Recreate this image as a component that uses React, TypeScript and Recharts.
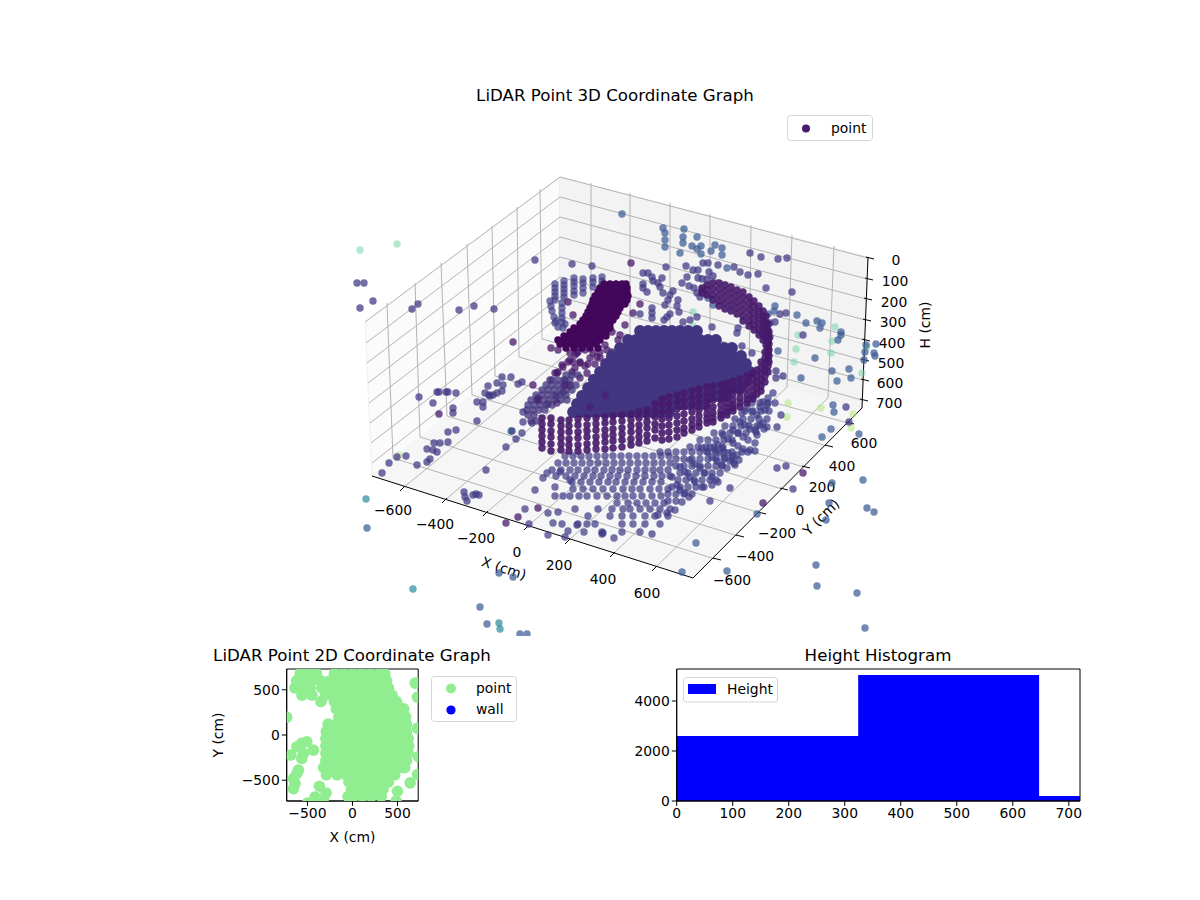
import React from 'react';
import { ScatterChart, Scatter, XAxis, YAxis, ZAxis, ReferenceLine, ReferenceArea, Legend, Customized, AreaChart, Area } from 'recharts';

const FONT = '"DejaVu Sans", sans-serif';

// ---- 3D panel: projected positions of the LiDAR points: [px, py, px, py, ...]
const farBluePoints = [622,214, 663,228, 665,233, 665,240, 665,247, 684,229, 683,237, 683,243, 680,253, 697,237, 692,246, 701,246, 697,249, 701,254, 711,251, 715,245, 722,248, 722,255, 713,305, 708,298, 727,268, 768,314, 775,306, 774,311, 797,315, 806,323, 817,321, 822,323, 820,328, 841,332, 841,335, 838,340, 866,345, 876,344, 865,352, 874,353, 875,356, 864,360, 815,358, 832,371, 849,369, 837,381, 851,378, 801,378, 778,351, 367,528, 480,607, 487,624, 520,634, 527,634, 499,573, 513,577, 816,565, 817,586, 857,593, 865,628, 832,483, 863,480, 829,503, 867,508, 874,512, 826,520, 859,434, 833,405, 834,412, 831,429, 822,437, 757,514, 727,571, 682,572, 696,543];
const farTealPoints = [366,499, 413,589, 499,623, 500,629, 511,431];
const farMintPoints = [360,250, 397,244, 693,312, 693,326, 835,327, 798,335, 832,341, 796,349, 831,353, 794,362, 862,373, 867,347];
const farLimePoints = [788,403, 787,417, 821,408, 853,414, 851,428, 399,455];
const midPurplePoints = [357,283, 364,283, 373,301, 360,308, 412,309, 418,304, 459,310, 474,306, 494,309, 535,260, 572,264, 592,266, 750,253, 761,257, 778,259, 787,258, 718,265, 708,263, 703,263, 734,267, 740,272, 748,275, 758,274, 766,288, 792,292, 666,267, 686,266, 693,270, 698,270, 709,272, 687,277, 698,278, 702,279, 707,279, 713,276, 682,283, 689,286, 694,288, 702,290, 697,293, 700,297, 643,273, 648,273, 652,277, 662,278, 643,284, 643,288, 647,292, 653,281, 658,283, 660,287, 663,293, 673,291, 670,295, 668,300, 665,305, 678,300, 677,306, 679,312, 652,308, 652,313, 652,318, 640,314, 670,314, 667,317, 664,320, 683,322, 690,320, 697,317, 712,327, 738,328, 737,333, 742,346, 752,353, 770,323, 775,322, 780,314, 786,313, 803,335, 770,337, 776,371, 776,378, 783,376, 846,407, 777,468, 786,466, 793,489, 777,427, 781,415, 849,422, 710,501, 730,488, 652,534, 419,397, 433,403, 437,392, 439,392, 446,392, 448,392, 456,393, 477,402, 483,402, 483,407, 485,393, 489,395, 493,395, 497,393, 502,391, 453,408, 453,413, 477,421, 448,432, 456,430, 434,443, 440,443, 448,442, 427,449, 433,450, 437,452, 430,459, 427,462, 417,465, 406,456, 397,457, 389,463, 382,473, 486,470, 464,492, 465,497, 467,501, 473,495, 476,494, 479,495, 512,431, 522,433, 516,439, 506,447, 523,422, 532,423, 523,412, 502,377, 511,377, 497,383, 488,386, 503,385, 518,384, 522,382, 490,396];
const deepPurplePoints = [513,342, 631,263, 640,304, 633,313, 551,348, 558,350, 570,353, 575,355, 568,362, 573,362, 562,365, 558,372, 555,373, 572,372, 565,380, 580,363, 588,364, 595,364, 600,352, 593,353, 607,350, 612,352, 618,360, 620,362, 605,365, 587,373, 592,378, 618,340, 612,332, 620,335, 625,325, 568,302, 573,315, 439,414, 533,385, 538,398, 803,473, 763,503, 518,517, 506,523, 538,508, 550,380, 557,373, 563,367, 570,360, 577,353, 580,362, 597,357, 605,345, 617,357, 600,358, 610,358, 590,358, 585,350, 578,352, 575,368, 585,366, 600,372, 610,372, 595,382, 580,378, 570,386, 563,392, 556,396, 548,404];
const handPoints = [555,284, 555,288, 555,292, 555,296, 555,300, 564,281, 564,285, 564,289, 564,293, 564,297, 574,278, 574,282, 574,286, 574,291, 574,295, 583,279, 583,283, 583,288, 583,293, 593,278, 593,282, 593,287, 602,277, 602,281, 602,285, 550,301, 551,306, 552,311, 554,317, 556,321, 562,303, 562,308, 562,313, 562,318, 562,322, 555,323, 563,328, 558,327, 565,324];

// rows of the dense clusters: [py, px, px, ...]
const clusterRows = [
  [284, 604,610,616,622,626], [288, 600,606,612,618,624,627], [292, 598,604,610,616,622,627], [296, 595,601,607,613,619,625,628],
  [300, 593,599,605,611,617,623,627], [304, 592,598,604,610,616,622,625], [308, 590,596,602,608,614,620], [312, 588,594,600,606,612,618],
  [316, 586,592,598,604,610,616], [320, 583,589,595,601,607,613], [324, 580,586,592,598,604,610], [328, 574,580,586,592,598,604,610],
  [332, 570,576,582,588,594,600,606], [336, 564,570,576,582,588,594,600,606], [340, 558,564,570,576,582,588,594,600],
  [344, 560,566,572,578,584,590,596], [348, 566,574,582,590,598],
];
const lobeRows = [
  [375, 566,572,578], [380, 552,558,564,570], [385, 546,552,558,564,570,576], [390, 542,548,554,560,566,572], [395, 536,542,548,554,560,566],
  [400, 531,537,543,549,555,561,567], [405, 528,534,540,546,552], [410, 527,533,539,545], [415, 528,534], [421, 531,536],
];
const discRows = [
  [331, 640,648,656,664,672,680,688,697], [340, 628,636,644,652,660,668,676,684,692,700,708,716],
  [348, 620,628,636,644,652,660,668,676,684,692,700,708,716,724,732], [356, 612,620,628,636,644,652,660,668,676,684,692,700,708,716,724,732,741],
  [364, 606,614,622,630,638,646,654,662,670,678,686,694,702,710,718,726,734,742,746], [372, 600,608,616,624,632,640,648,656,664,672,680,688,696,704,712,720,728,736,744,750],
  [380, 594,602,610,618,626,634,642,650,658,666,674,682,690,698,706,714,722,730,738,746], [388, 588,596,604,612,620,628,636,644,652,660,668,676,684,692,700,708,716,724,732,740],
  [396, 582,590,598,606,614,622,630,638,646,654,662,670,678,686,694,702,710,718,726], [404, 577,585,593,601,609,617,625,633,641,649,657,665,673,681,689,697,705],
  [412, 573,581,589,597,605,613,621,629,637,645,653,661,669],
];
const discSpecks = [605,395, 590,407, 538,400, 557,403, 565,385];
// ring wall: [px, py, py, ...]
const ringColumns = [
  [542,418,424,430,436,442,448], [551,418,424,431,437,444,451], [561,420,426,432,438,444,450], [569,420,426,432,439,445,451],
  [578,419,425,432,438,445,451], [587,418,425,431,437,444,450], [596,418,424,430,437,443,449], [605,417,423,430,436,442,449],
  [613,416,422,429,435,441,448], [622,415,421,428,434,440,447], [631,414,420,426,432,439,445], [639,412,418,425,431,437,443],
  [647,410,416,422,428,435,441], [655,404,411,417,424,430,438], [662,399,405,412,419,426,433,440], [669,397,404,411,418,425,432,439],
  [677,395,402,409,416,423,430,437], [684,393,400,407,414,421,428,433], [692,391,398,405,412,419,425,430], [699,389,396,403,410,416,422,427],
  [707,387,394,401,408,414,419,423], [713,386,393,400,407,413,418,422], [721,385,392,399,405,411,415,418], [727,383,390,397,403,408,412,415],
  [733,381,388,394,400,405,408,411], [740,379,386,392,398,403,407], [747,376,383,389,395,400,403], [753,373,379,385,391,396,399],
  [757,370,376,382,388,394], [761,362,368,374,380,386,391], [765,352,358,364,370,376,382], [768,342,348,354,360,366,372],
  [769,332,338,344,350,356,362], [768,324,330,336,342,348,353], [766,316,322,328,334,340,345], [763,311,317,323,329,335,340],
  [759,306,312,318,324,330,335], [754,301,307,313,319,325,330], [749,297,303,309,315,321,326], [743,292,298,304,310,316,321],
  [737,290,296,302,308,314], [731,287,293,299,305,311], [725,285,291,297,303,309], [719,283,289,295,301,306], [713,283,289,295,300],
  [707,285,290,295], [702,288,293],
];
const floorRows = [
  [456, 565,573,581,589,597,605,613,621,629,637,645,653,661,669], [463, 558,566,574,582,590,598,606,614,622,630,638,646,654,662,670],
  [470, 552,561,570,578,587,595,604,612,620,628,637,645,653,660,668], [476, 556,566,575,584,593,601,610,618,627,636,645,654,662,670],
  [482, 572,581,590,599,608,616,625,634,643,652,661], [489, 573,583,593,603,613,623,632,640,650,659,668],
  [496, 563,570,579,587,597,607,617,625,633,642,652,661], [503, 617,628,637,646,655,664], [509, 575,598,612,623,630,640,650,660,670],
  [516, 588,610,622,633,645,655,668], [524, 562,578,587,595,622,633,645,660], [532, 584,602,622,640],
  [447, 690,698,706,714,722], [440, 700,708,716,724,732], [433, 714,722,730,738,746], [426, 725,733,741,749,757],
  [419, 735,743,751,759,767], [411, 745,753,761,769], [403, 752,760,768,775], [452, 660,668,676,684,692,700,708,716,724,732],
  [459, 676,684,692,700,708,716,724,732], [466, 676,684,692,700,708,716,722], [473, 680,688,696,704,712,720],
  [480, 678,686,694,702,710,716], [487, 672,680,688,696,704], [494, 668,676,684,692], [501, 668,676],
];
const floorStrands = [689,497, 685,493, 680,490, 677,485, 672,477, 702,487, 695,482, 690,477, 685,472, 680,467, 718,482, 712,477, 705,473, 700,468, 695,464, 690,460, 727,468, 722,465, 717,461, 712,457, 707,452, 702,448, 735,465, 730,461, 725,458, 720,453, 715,450, 710,447, 739,460, 733,456, 728,453, 723,448, 718,445, 750,450, 743,449, 738,446, 733,443, 728,439, 723,435, 755,443, 748,440, 743,437, 738,433, 733,430, 767,427, 760,425, 756,432, 750,429, 745,425, 740,422, 765,410, 760,407, 757,415, 752,412, 747,408, 742,413, 773,393, 768,398, 763,402, 767,405, 763,423, 764,429, 755,430, 757,435, 755,451, 748,452, 742,452, 737,455, 734,463, 712,485, 682,502, 675,510, 667,513, 658,515, 535,490, 543,478, 547,473, 555,487, 555,496, 525,509, 548,513, 558,512, 553,523, 548,535, 529,524, 568,531, 565,537, 577,525, 603,533, 602,534, 614,538, 560,472, 570,480];

const flatPairs = (a: number[]) => { const out: { px: number; py: number }[] = []; for (let i = 0; i < a.length; i += 2) out.push({ px: a[i], py: a[i + 1] }); return out; };
const fromRows = (rows: number[][]) => rows.flatMap(([py, ...xs]) => xs.map((px) => ({ px, py })));
const fromColumns = (cols: number[][]) => cols.flatMap(([px, ...ys]) => ys.map((py) => ({ px, py })));

// ---- 3D frame
const zTickLabels = ['0', '100', '200', '300', '400', '500', '600', '700'];
const xTickLabels = ['\u2212600', '\u2212400', '\u2212200', '0', '200', '400', '600'];
const yTickLabels = ['\u2212600', '\u2212400', '\u2212200', '0', '200', '400', '600'];
const leftTop = [[387,303],[415,283],[441,263],[467,244],[492,226],[517,207],[540,189]];
const leftBot = [[393,458],[420,437],[447,416],[472,395],[495,376],[519,357],[542,339]];
const backTop = [[591,183],[630,193],[670,203],[710,214],[751,225],[792,235],[834,246]];
const backBot = [[591,334],[630,344],[670,355],[710,366],[749,376],[787,387],[828,398]];
const xFoot = [[403,488],[445,500],[486,513],[527,527],[568,541],[613,554],[655,568]];
const yFoot = [[715,559],[738,536],[760,513],[782,489],[804,467],[827,446],[848,423]];
const zLeft = [[365,322],[366,343],[367,363],[368,383],[369,403],[370,423],[371,443],[372,463]];
const zBack = [[560,177],[560,197],[560,217],[560,237],[560,257],[560,277],[560,297],[560,316]];
const zRight = [[868,258],[867,279],[866,299],[865,320],[864,340],[863,360],[863,380],[862,400]];
const xLabelPos = [[393,510],[435,524],[476,538],[517,552],[559,565],[603,579],[647,593]];
const yLabelPos = [[732,580],[755,556],[777,533],[800,510],[822,487],[842,466],[864,443]];
const zLabelPos = [[896,260],[895,281],[894,302],[893,322],[892,343],[891,363],[890,383],[889,403]];

const wires: number[][] = [];
leftTop.forEach((p, i) => { wires.push([p[0], p[1], leftBot[i][0], leftBot[i][1]]); wires.push([leftBot[i][0], leftBot[i][1], yFoot[i][0], yFoot[i][1]]); });
backTop.forEach((p, i) => { wires.push([p[0], p[1], backBot[i][0], backBot[i][1]]); wires.push([backBot[i][0], backBot[i][1], xFoot[i][0], xFoot[i][1]]); });
zLeft.forEach((p, i) => { wires.push([p[0], p[1], zBack[i][0], zBack[i][1]]); wires.push([zBack[i][0], zBack[i][1], zRight[i][0], zRight[i][1]]); });

const spines = [[372,476,693,578],[693,578,862,408],[868,257,862,408]];
const tickMarks: number[][] = [
  ...xFoot.map(([x, y]) => [x + 2, y - 2, x - 3, y + 3]),
  ...yFoot.map(([x, y]) => [x - 2, y - 1, x + 6, y + 1]),
  ...zRight.map(([x, y]) => [x - 2, y - 1, x + 6, y + 1]),
];

const Panes = () => (
  <g>
    <polygon points="365,322 560,177 559,325 372,476" fill="#fbfbfb" stroke="#f0f0f0" />
    <polygon points="560,177 868,257 862,408 559,325" fill="#f3f3f3" stroke="#ececec" />
    <polygon points="372,476 559,325 862,408 693,578" fill="#f6f6f6" stroke="none" />
  </g>
);

const FrameText = () => (
  <g fontFamily={FONT} fontSize={13.9} fill="#000" textAnchor="middle" dominantBaseline="central">
    {xTickLabels.map((t, i) => <text key={'x' + i} x={xLabelPos[i][0]} y={xLabelPos[i][1]}>{t}</text>)}
    {yTickLabels.map((t, i) => <text key={'y' + i} x={yLabelPos[i][0]} y={yLabelPos[i][1]}>{t}</text>)}
    {zTickLabels.map((t, i) => <text key={'z' + i} x={zLabelPos[i][0]} y={zLabelPos[i][1]}>{t}</text>)}
    <text transform="translate(504,568) rotate(18)">X (cm)</text>
    <text transform="translate(821,517) rotate(-45)">Y (cm)</text>
    <text transform="translate(925,325) rotate(-90)">H (cm)</text>
  </g>
);

const dot = (r: number) => (p: any) => <circle cx={p.cx} cy={p.cy} r={r} fill={p.fill} fillOpacity={p.fillOpacity} />;

const legendBox3D = (props: any) => {
  const item = (props.payload ?? []).find((it: any) => it.value === 'point');
  return (
    <svg width={86} height={26} style={{ display: 'block' }}>
      <rect x={0.5} y={0.5} width={85} height={25} rx={3} fill="#fff" stroke="#d5d5d5" />
      <circle cx={19} cy={13.5} r={4} fill={item?.color ?? '#440f6e'} />
      <text x={44} y={13} fontFamily={FONT} fontSize={13.9} fill="#000" dominantBaseline="central">{item?.value}</text>
    </svg>
  );
};

// ---- 2D panel data, in cm: [y, x, x, ...]
const planRows = [
  [680, -580,-490,-400,-200,-100,0,100,200,300,360], [600, -620,-530,-440,-350,-250,-150,-50,50,150,250,350,380],
  [520, -640,-560,-470,-340,-240,-140,-40,60,160,260,370,400], [440, -560,-450,-300,-220,-120,-20,80,180,280,380,440],
  [370, -350,-200,-150,-50,50,150,250,350,450,490], [290, -180,-130,-30,70,170,270,370,470,540,570],
  [200, -150,-100,0,100,200,300,400,500,590], [120, -270,-180,-120,-20,80,180,280,380,480,580,600],
  [40, -290,-240,-140,-40,60,160,260,360,460,560,600], [-40, -295,-240,-140,-40,60,160,260,360,460,560,620],
  [-120, -295,-240,-140,-40,60,160,260,360,460,560,625], [-200, -295,-240,-140,-40,60,160,260,360,460,560,620],
  [-280, -295,-240,-140,-40,60,160,260,360,460,560,600], [-360, -320,-250,-150,-40,60,160,260,360,460,560,580],
  [-440, -290,-170,-70,10,110,210,310,410,470], [-520, -40,30,130,230,330,400], [-600, -10,50,150,250,340], [-680, -50,10,110,210,320],
];
const planStrays = [-685,-222, -618,-130, -563,-93, -507,-74, -433,-167, -544,-204, -563,-259, -600,-389, -618,-426, -655,-481, -637,-537, -655,-593, -367,-567, -293,-641, -415,-685, -322,-704, -500,-752, 696,574, 722,418, 722,74, 722,-437, 641,-530, 500,-622, 485,-730, -730,196, 733,-240];
const wallPoints: { x: number; y: number }[] = [];
const planTicks = [-500, 0, 500];

// ---- Histogram data
const histEdges = [0, 324, 647, 720];
const histCounts = [2600, 5040, 200, 200];
const histXTicks = [0, 100, 200, 300, 400, 500, 600, 700];
const histYTicks = [0, 2000, 4000];

const tickStyle = { fontSize: 13.9, fill: '#000', fontFamily: FONT };
const minus = (v: number) => String(v).replace('-', '\u2212');

const legendBox2D = (props: any) => {
  const items = props.payload ?? [];
  return (
    <svg width={86} height={46} style={{ display: 'block' }}>
      <rect x={0.5} y={0.5} width={85} height={45} rx={3} fill="#fff" stroke="#d5d5d5" />
      {items.map((it: any, i: number) => (
        <g key={i}>
          <circle cx={20} cy={12.5 + i * 21.5} r={i === 0 ? 5 : 4.6} fill={it.color} />
          <text x={45} y={12 + i * 20.5} fontFamily={FONT} fontSize={13.9} fill="#000" dominantBaseline="central">{it.value}</text>
        </g>
      ))}
    </svg>
  );
};
const legendBoxHist = (props: any) => {
  const item = props.payload?.[0];
  return (
    <svg width={96} height={26} style={{ display: 'block' }}>
      <rect x={0.5} y={0.5} width={94} height={24.5} rx={3} fill="#fff" stroke="#d5d5d5" />
      <rect x={5} y={7} width={28} height={10} fill={item?.color ?? '#0000ff'} />
      <text x={44} y={12} fontFamily={FONT} fontSize={13.9} fill="#000" dominantBaseline="central">{item?.value}</text>
    </svg>
  );
};

const Title = ({ x, y, children }: any) => (
  <div style={{ position: 'absolute', left: x, top: y, transform: 'translate(-50%,-50%)', fontFamily: FONT, fontSize: 16.67, color: '#000', whiteSpace: 'nowrap' }}>{children}</div>
);

export default function App() {
  const planPoints = [...planRows.flatMap(([y, ...xs]) => xs.map((x) => ({ x, y }))), ...flatPairs(planStrays).map((p) => ({ x: p.px, y: p.py }))];
  const histData = histEdges.map((height, i) => ({ height, count: histCounts[i] }));
  const s3d = (key: string, data: any[], fill: string, op: number, r = 3.7, name?: string) => (
    <Scatter key={key} name={name ?? key} data={data} dataKey="py" fill={fill} fillOpacity={op} shape={dot(r)} isAnimationActive={false} legendType={name ? 'circle' : 'none'} />
  );
  return (
    <div style={{ position: 'absolute', left: 0, top: 0, width: 1200, height: 900, background: '#fff', overflow: 'hidden' }}>
      <div style={{ position: 'absolute', left: 0, top: 0 }}>
        <ScatterChart width={1200} height={636} margin={{ top: 0, right: 0, bottom: 0, left: 0 }}>
          <XAxis type="number" dataKey="px" domain={[0, 1200]} hide allowDataOverflow={false} />
          <YAxis type="number" dataKey="py" domain={[0, 636]} reversed hide />
          <ZAxis range={[36, 36]} />
          <Customized component={Panes} />
          {wires.map((w, i) => (
            <ReferenceLine key={'w' + i} segment={[{ x: w[0], y: w[1] }, { x: w[2], y: w[3] }]} stroke="#b4b4b4" strokeWidth={1} ifOverflow="visible" />
          ))}
          {spines.map((w, i) => (
            <ReferenceLine key={'s' + i} segment={[{ x: w[0], y: w[1] }, { x: w[2], y: w[3] }]} stroke="#000" strokeWidth={1} ifOverflow="visible" />
          ))}
          {tickMarks.map((w, i) => (
            <ReferenceLine key={'t' + i} segment={[{ x: w[0], y: w[1] }, { x: w[2], y: w[3] }]} stroke="#000" strokeWidth={1} ifOverflow="visible" />
          ))}
          <Customized component={FrameText} />
          {s3d('lime', flatPairs(farLimePoints), '#b4e67c', 0.55)}
          {s3d('mint', flatPairs(farMintPoints), '#78d6ab', 0.55)}
          {s3d('teal', flatPairs(farTealPoints), '#2a8a9c', 0.7)}
          {s3d('blue', flatPairs(farBluePoints), '#3a5c94', 0.72)}
          {s3d('mid', flatPairs(midPurplePoints), '#423a85', 0.74)}
          {s3d('floor', fromRows(floorRows), '#403c86', 0.72)}
          {s3d('strands', flatPairs(floorStrands), '#403c86', 0.72)}
          {s3d('hand', flatPairs(handPoints), '#423f88', 0.7)}
          {s3d('deep', flatPairs(deepPurplePoints), '#47186a', 0.75)}
          {s3d('cluster', fromRows(clusterRows), '#42065a', 1)}
          {s3d('lobe', fromRows(lobeRows), '#45387f', 0.78)}
          {s3d('disc', fromRows(discRows), '#433680', 1, 5.9)}
          {s3d('specks', flatPairs(discSpecks), '#491c70', 0.7)}
          {s3d('ring', fromColumns(ringColumns), '#461a6c', 0.9, 3.7, 'point')}
          <Legend layout="vertical" align="center" verticalAlign="middle" content={legendBox3D} wrapperStyle={{ left: 787, top: 115, width: 86, bottom: 'auto', right: 'auto' }} />
        </ScatterChart>
      </div>
      <Title x={615} y={95}>LiDAR Point 3D Coordinate Graph</Title>

      <div style={{ position: 'absolute', left: 200, top: 640 }}>
        <ScatterChart width={330} height={210} margin={{ top: 29, right: 111.8, bottom: 0, left: 0 }}>
          <XAxis type="number" dataKey="x" domain={[-730, 730]} ticks={planTicks} allowDataOverflow tick={tickStyle} tickFormatter={minus} tickSize={4.9} stroke="#000" height={49} interval={0} label={{ value: 'X (cm)', position: 'insideBottom', offset: 8, style: tickStyle }} />
          <YAxis type="number" dataKey="y" domain={[-730, 730]} ticks={planTicks} allowDataOverflow tick={tickStyle} tickFormatter={minus} tickSize={4.9} stroke="#000" width={86.7} interval={0} label={{ value: 'Y (cm)', angle: -90, position: 'insideLeft', offset: 18, style: { ...tickStyle, textAnchor: 'middle' } }} />
          <ZAxis range={[100, 100]} />
          <Scatter name="point" data={planPoints} fill="#90ee90" shape={dot(5.8)} isAnimationActive={false} />
          <Scatter name="wall" data={wallPoints} fill="#0000ff" isAnimationActive={false} />
          <ReferenceArea x1={-730} x2={730} y1={-730} y2={730} fill="none" stroke="#000" strokeWidth={1} ifOverflow="visible" />
          <Legend layout="vertical" align="center" verticalAlign="middle" content={legendBox2D} wrapperStyle={{ left: 231, top: 36, width: 86, bottom: 'auto', right: 'auto' }} />
        </ScatterChart>
      </div>
      <Title x={352} y={655}>LiDAR Point 2D Coordinate Graph</Title>

      <div style={{ position: 'absolute', left: 600, top: 640 }}>
        <AreaChart width={500} height={210} data={histData} margin={{ top: 29, right: 20, bottom: 0, left: 0 }}>
          <XAxis type="number" dataKey="height" domain={[0, 720]} ticks={histXTicks} tick={tickStyle} tickSize={4.9} stroke="#000" height={49} interval={0} />
          <YAxis type="number" domain={[0, 5280]} ticks={histYTicks} tick={tickStyle} tickSize={4.9} stroke="#000" width={76.7} interval={0} />
          <Area name="Height" type="stepAfter" dataKey="count" fill="#0000ff" fillOpacity={1} stroke="none" dot={false} activeDot={false} isAnimationActive={false} legendType="rect" />
          <ReferenceArea x1={0} x2={720} y1={0} y2={5280} fill="none" stroke="#000" strokeWidth={1} ifOverflow="visible" />
          <Legend layout="vertical" align="center" verticalAlign="middle" content={legendBoxHist} wrapperStyle={{ left: 83, top: 36.5, width: 96, bottom: 'auto', right: 'auto' }} />
        </AreaChart>
      </div>
      <Title x={878} y={655}>Height Histogram</Title>
    </div>
  );
}
